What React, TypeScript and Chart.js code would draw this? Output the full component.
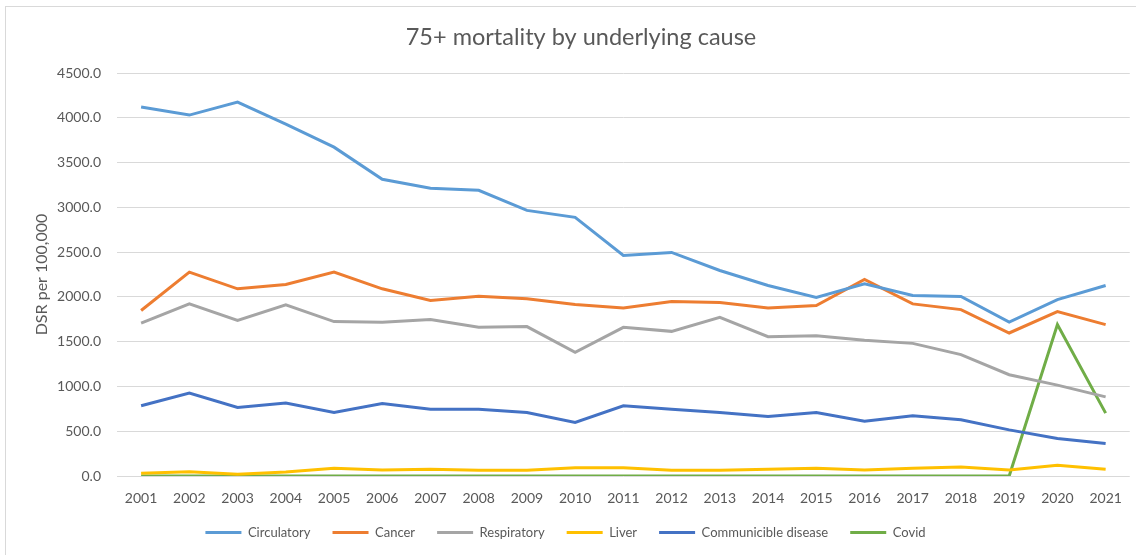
import React, { useEffect, useRef } from "react";
import { Chart, registerables } from "chart.js";

Chart.register(...registerables);

const years = ["2001","2002","2003","2004","2005","2006","2007","2008","2009","2010","2011","2012","2013","2014","2015","2016","2017","2018","2019","2020","2021"];
const circulatory = [4120, 4030, 4175, 3930, 3672, 3313, 3213, 3190, 2966, 2888, 2463, 2496, 2295, 2127, 1993, 2146, 2015, 2004, 1718, 1970, 2127];
const cancer = [1848, 2277, 2090, 2139, 2277, 2090, 1960, 2008, 1978, 1914, 1877, 1948, 1937, 1877, 1903, 2194, 1922, 1858, 1597, 1836, 1690];
const respiratory = [1706, 1922, 1736, 1911, 1724, 1717, 1747, 1661, 1668, 1380, 1660, 1615, 1772, 1556, 1567, 1515, 1481, 1355, 1131, 1015, 884];
const liver = [30, 48, 19, 45, 86, 67, 75, 63, 63, 93, 93, 63, 63, 75, 86, 67, 86, 100, 67, 120, 75];
const communicable = [784, 926, 765, 814, 709, 810, 746, 746, 709, 597, 784, 746, 709, 664, 709, 612, 672, 627, 515, 418, 362];
const covid = [0, 0, 0, 0, 0, 0, 0, 0, 0, 0, 0, 0, 0, 0, 0, 0, 0, 0, 0, 1690, 702];

const seriesNames = ["Circulatory", "Cancer", "Respiratory", "Liver", "Communicible disease", "Covid"];
const seriesColors = ["#5B9BD5", "#ED7D31", "#A5A5A5", "#FFC000", "#4472C4", "#70AD47"];
const seriesValues = [circulatory, cancer, respiratory, liver, communicable, covid];
const chartTitle = "75+ mortality by underlying cause";

const FONT = "Lato, 'Open Sans', sans-serif";
const TEXT = "#595959";

const titlePlugin = {
  id: "excelTitle",
  afterDraw(chart: any) {
    const ctx = chart.ctx;
    ctx.save();
    ctx.font = `normal 23.5px ${FONT}`;
    ctx.fillStyle = TEXT;
    ctx.textAlign = "center";
    ctx.textBaseline = "middle";
    ctx.fillText(chartTitle, 581, 37);
    ctx.restore();
  },
};

export default function App() {
  const ref = useRef<HTMLCanvasElement | null>(null);
  useEffect(() => {
    if (!ref.current) return;
    const chart = new Chart(ref.current, {
      type: "line",
      data: {
        labels: years,
        datasets: seriesValues.map((vals, i) => ({
          label: seriesNames[i],
          data: vals,
          borderColor: seriesColors[i],
          backgroundColor: seriesColors[i],
          borderWidth: 3,
          pointRadius: 0,
          tension: 0,
          fill: false,
        })),
      },
      plugins: [titlePlugin],
      options: {
        animation: false,
        responsive: false,
        maintainAspectRatio: false,
        layout: { padding: { left: 0, right: 5, top: 73, bottom: 6 } },
        plugins: {
          title: { display: false },
          legend: {
            position: "bottom",
            labels: {
              color: TEXT,
              font: { family: FONT, size: 13 },
              boxWidth: 36,
              boxHeight: 3,
              padding: 22,
              generateLabels: (c: any) => {
                const items = Chart.defaults.plugins.legend.labels.generateLabels(c);
                return items.map((it: any, i: number) => ({ ...it, lineWidth: 0, fillStyle: seriesColors[i], strokeStyle: seriesColors[i] }));
              },
            },
          },
          tooltip: { enabled: false },
        },
        scales: {
          x: {
            offset: true,
            grid: { display: false, drawTicks: false },
            border: { display: false },
            ticks: { color: TEXT, font: { family: FONT, size: 14 }, padding: 14, maxRotation: 0 },
            afterFit: (s: any) => { s.height = 28; },
          },
          y: {
            min: 0,
            max: 4500,
            grid: { color: "#D9D9D9", lineWidth: 1, drawTicks: false },
            border: { display: false },
            ticks: {
              stepSize: 500,
              color: TEXT,
              font: { family: FONT, size: 14 },
              padding: 16,
              callback: (v: any) => Number(v).toFixed(1),
            },
            title: {
              display: true,
              text: "DSR per 100,000",
              color: TEXT,
              font: { family: FONT, size: 16, weight: "normal" },
              padding: { top: 32, bottom: 0 },
            },
            afterFit: (s: any) => { s.width = 117; },
          },
        },
      },
    });
    return () => chart.destroy();
  }, []);
  return (
    <div style={{ position: "fixed", left: 0, top: 0, width: 1136, height: 555, background: "#fff" }}>
      <div style={{ position: "absolute", left: 5, top: 6, width: 1140, height: 560, borderLeft: "1px solid #D9D9D9", borderTop: "1px solid #D9D9D9", boxSizing: "border-box" }} />
      <canvas ref={ref} width={1136} height={555} style={{ position: "absolute", left: 0, top: 0, width: 1136, height: 555 }} />
    </div>
  );
}
